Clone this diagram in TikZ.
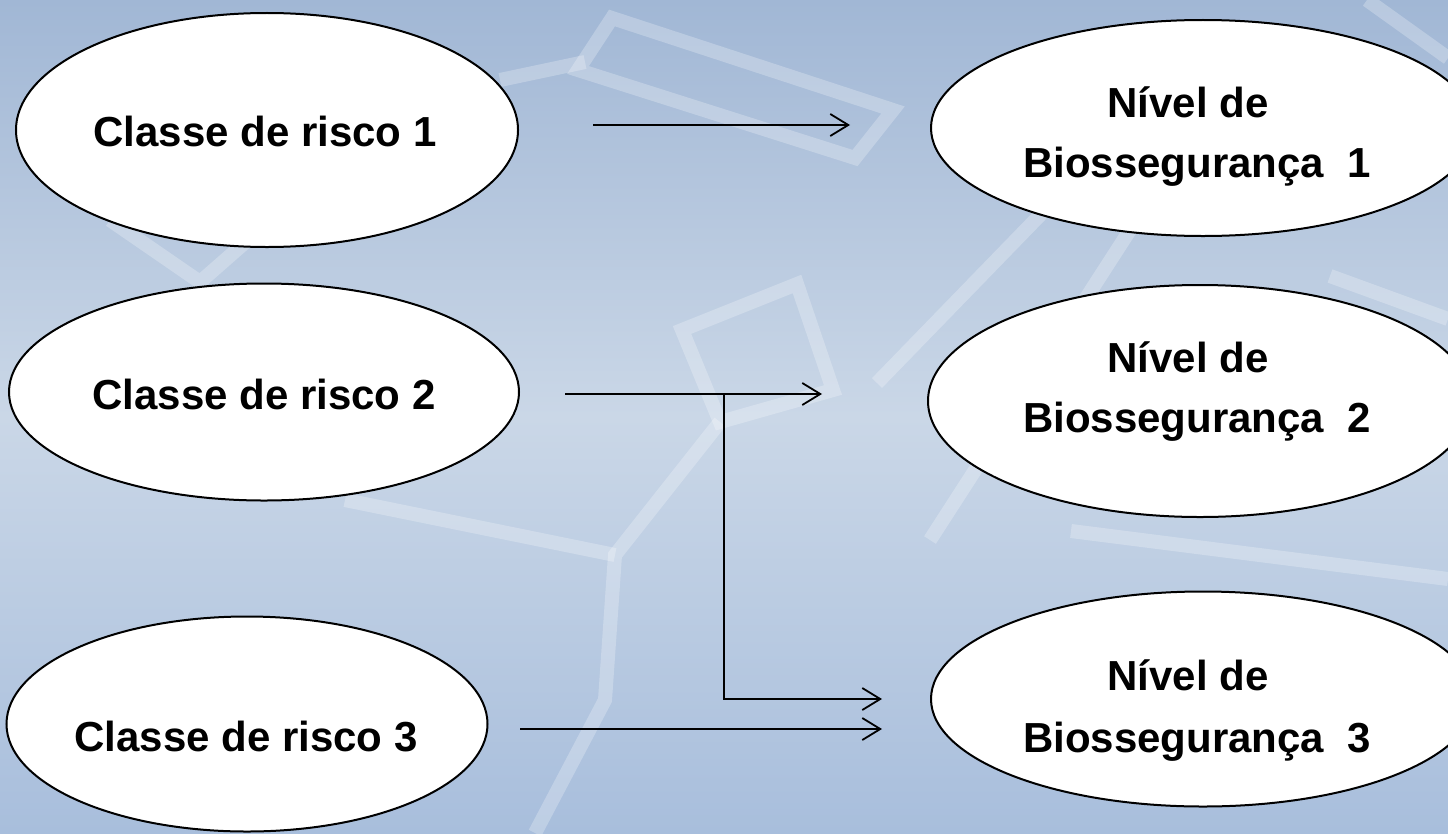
\documentclass[tikz,border=0pt]{standalone}
\usepackage{fontspec}
\setmainfont{Liberation Sans}
\usetikzlibrary{shapes.geometric,arrows.meta}
\definecolor{bgtop}{RGB}{161,183,213}
\definecolor{bgmid}{RGB}{202,215,231}
\definecolor{bgbot}{RGB}{168,190,220}
\begin{document}
\begin{tikzpicture}[x=1bp,y=-1bp,
  ell/.style={ellipse, draw=black, line width=2bp, fill=white, inner sep=0pt, outer sep=0pt},
  lbl/.style={font=\bfseries\fontsize{42bp}{50bp}\selectfont, anchor=base, inner sep=0pt},
  conn/.style={line width=1.8bp, -{Straight Barb[length=18bp,width=22bp,line width=1.8bp]}},
  stripe/.style={white, opacity=0.25, line width=14bp, line join=miter}]
\useasboundingbox (0,0) rectangle (1448,833);
\clip (0,0) rectangle (1448,833);
\shade[top color=bgtop, bottom color=bgbot, middle color=bgmid] (0,0) rectangle (1448,833);
% background stripes
\draw[stripe] (110,220) -- (200,282) -- (265,225);
\draw[stripe] (500,80) -- (585,62);
\draw[stripe] (612,18) -- (893,110) -- (855,158) -- (578,70) -- cycle;
\draw[stripe] (682,330) -- (797,284) -- (833,390) -- (720,422) -- cycle;
\draw[stripe] (720,422) -- (615,555) -- (605,700) -- (535,833);
\draw[stripe] (345,500) -- (615,555);
\draw[stripe] (1043,212) -- (877,383);
\draw[stripe] (1130,230) -- (930,540);
\draw[stripe] (1071,531) -- (1448,579);
\draw[stripe] (1367,0) -- (1448,58);
\draw[stripe] (1330,276) -- (1448,319);
% ellipses
\node[ell, minimum width=502bp, minimum height=234bp] (e1) at (267,130) {};
\node[ell, minimum width=510bp, minimum height=217bp] (e2) at (264,392) {};
\node[ell, minimum width=481bp, minimum height=215bp] (e3) at (247,724) {};
\node[ell, minimum width=544bp, minimum height=216bp] (r1) at (1203,128) {};
\node[ell, minimum width=544bp, minimum height=232bp] (r2) at (1200,401) {};
\node[ell, minimum width=544bp, minimum height=215bp] (r3) at (1203,699) {};
% labels
\node[lbl] (t1) at (265,146) {Classe de risco 1};
\node[lbl] (t2) at (264,409) {Classe de risco 2};
\node[lbl] (t3) at (246,751) {Classe de risco 3};
\node[lbl] (u1a) at (1188,117) {Nível de};
\node[lbl] (u1b) at (1197,177) {Biossegurança~~1};
\node[lbl] (u2a) at (1188,372) {Nível de};
\node[lbl] (u2b) at (1197,432) {Biossegurança~~2};
\node[lbl] (u3a) at (1188,690) {Nível de};
\node[lbl] (u3b) at (1197,752) {Biossegurança~~3};
% connectors
\coordinate (a1s) at (593,125);
\coordinate (a1e) at (850,125);
\coordinate (a2s) at (565,394);
\coordinate (a2e) at (822,394);
\coordinate (br) at (724,394);
\coordinate (b3e) at (882,699);
\coordinate (a3s) at (520,729);
\coordinate (a3e) at (882,729);
\draw[conn] (a1s) -- (a1e);
\draw[conn] (a2s) -- (a2e);
\draw[conn] (br) |- (b3e);
\draw[conn] (a3s) -- (a3e);
\end{tikzpicture}
\end{document}
